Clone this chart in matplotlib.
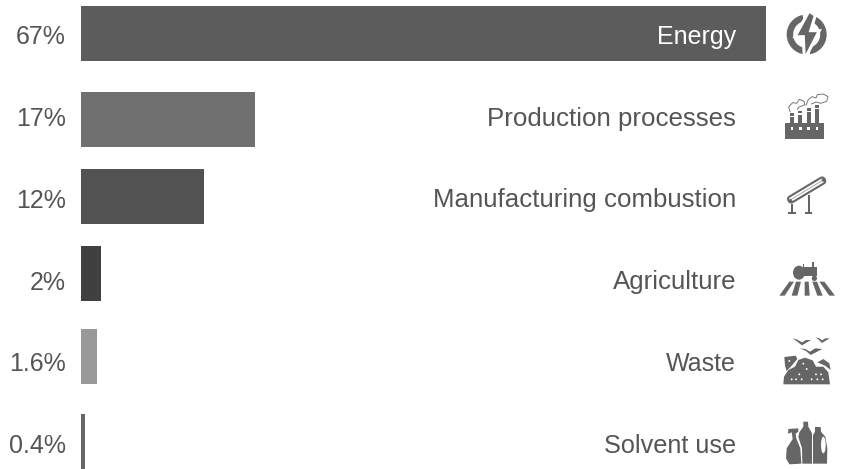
import matplotlib

matplotlib.use("Agg")

import matplotlib.pyplot as plt
from matplotlib.patches import Circle, Ellipse, FancyBboxPatch, Polygon, Rectangle, Wedge
from matplotlib.transforms import Affine2D

categories = ["Energy", "Production processes", "Manufacturing combustion", "Agriculture", "Waste", "Solvent use"]
shares = [67, 17, 12, 2, 1.6, 0.4]
share_labels = ["67%", "17%", "12%", "2%", "1.6%", "0.4%"]

# bars and labels sit on different rows, both given in pixels
BAR_CENTRES = [33.5, 119.5, 196.5, 273.5, 356.5, 442]
LABEL_CENTRES = [34.5, 116.5, 198, 280, 361.5, 443.5]
BAR_HEIGHT = 55
BAR_COLORS = ["#5c5c5c", "#707070", "#525252", "#404040", "#999999", "#666666"]
LABEL_SIZES = [18, 18.6, 18.6, 18.6, 18, 18.2]
TEXT = "#555555"
ICON = "#666666"

W, H = 843, 469
fig = plt.figure(figsize=(W / 100, H / 100), dpi=100)
fig.patch.set_facecolor("white")
plt.rcParams["font.family"] = ["Liberation Sans", "DejaVu Sans"]

ax = fig.add_axes([81 / W, 0, (766 - 81) / W, 1])
ax.barh(BAR_CENTRES, shares, height=BAR_HEIGHT, color=BAR_COLORS)
ax.set_xlim(0, 67)
ax.set_ylim(H, 0)
ax.axis("off")

# pixel-space layer for labels and icons
ov = fig.add_axes([0, 0, 1, 1])
ov.set_xlim(0, W)
ov.set_ylim(H, 0)
ov.axis("off")
ov.patch.set_alpha(0)

for i, cy in enumerate(LABEL_CENTRES):
    ov.text(66, cy, share_labels[i], ha="right", va="center_baseline", fontsize=18, color=TEXT)
    ov.text(736, cy, categories[i], ha="right", va="center_baseline", fontsize=LABEL_SIZES[i],
            color="white" if i == 0 else TEXT)


def px(points, oy=0):
    # icon outlines are sketched at 3x, origin at x=740
    return [(740 + x / 3, oy + y / 3) for x, y in points]


def poly(points, oy=0, color=ICON, **kw):
    ov.add_patch(Polygon(px(points, oy), closed=True, facecolor=color, edgecolor=kw.pop("edgecolor", "none"), **kw))


def outline(points, oy=0, lw=0.7):
    xs, ys = zip(*px(points, oy))
    ov.plot(xs, ys, color="#777777", lw=lw, solid_capstyle="round")


def disc(x, y, r, oy=0, color=ICON):
    ov.add_patch(Circle((740 + x / 3, oy + y / 3), r / 3, facecolor=color, edgecolor="none"))


# energy
c = (740 + 200 / 3, 34.5)
ov.add_patch(Wedge(c, 20, 98, 258, width=6.5, facecolor=ICON, edgecolor="none"))
ov.add_patch(Wedge(c, 20, -78, 80, width=6.5, facecolor=ICON, edgecolor="none"))
bolt = [(207, 33), (165, 110), (190, 110), (193, 180), (238, 92), (212, 92), (226, 46)]
poly(bolt, color=ICON, edgecolor="white", linewidth=2.2)

# factory
poly([(135, 370), (252, 370), (252, 418), (135, 418)])
for x in (156, 181, 206, 231):
    ov.add_patch(Rectangle((740 + x / 3 - 1.3, 127.5), 2.6, 2.6, facecolor="white", edgecolor="none"))
for x, top in ((156, 340), (181, 332), (206, 324), (232, 316)):
    poly([(x - 6, top), (x + 6, top), (x + 6, top + 8), (x - 6, top + 8)])
    poly([(x - 6, top + 12), (x + 6, top + 12), (x + 6, 370), (x - 6, 370)])
outline([(150, 335), (146, 320), (158, 308), (170, 310), (178, 298), (192, 304), (194, 314), (176, 322), (172, 328)])
outline([(198, 316), (204, 300), (216, 290), (228, 294), (232, 284), (250, 282), (264, 290), (260, 304), (242, 310), (228, 306), (214, 312)])

# conveyor
cx, cy = 740 + 200 / 3, 570 / 3
t = Affine2D().rotate_deg_around(cx, cy, -31) + ov.transData
ov.add_patch(FancyBboxPatch((cx - 21, cy - 3.2), 42, 6.4, boxstyle="round,pad=0,rounding_size=3.2",
                            facecolor="white", edgecolor=ICON, lw=1.5, transform=t))
ov.add_patch(Rectangle((cx - 18, cy - 0.4), 36, 0.8, facecolor="#999999", edgecolor="none", transform=t))
disc(152, 602, 5)
disc(250, 540, 5)
for x, top in ((156, 612), (206, 585)):
    poly([(x - 3, top), (x + 3, top), (x + 3, 636), (x - 3, 636)])
    poly([(x - 11, 636), (x + 11, 636), (x + 11, 641), (x - 11, 641)])

# agriculture
y0 = 235
ov.add_patch(Ellipse((740 + 177 / 3, y0 + 113 / 3), 36 / 3, 42 / 3, facecolor=ICON, edgecolor="none"))
poly([(188, 96), (232, 96), (232, 124), (188, 124)], y0)
poly([(189, 86), (193, 86), (193, 96), (189, 96)], y0)
poly([(217, 82), (222, 82), (222, 96), (217, 96)], y0)
disc(223, 130, 8, y0)
poly([(148, 140), (162, 140), (134, 182), (118, 182)], y0)
poly([(168, 140), (183, 140), (172, 182), (155, 182)], y0)
poly([(194, 140), (206, 140), (209, 182), (194, 182)], y0)
poly([(217, 140), (231, 140), (248, 182), (232, 182)], y0)
poly([(238, 140), (253, 140), (285, 182), (268, 182)], y0)

# waste
poly([(130, 448), (132, 425), (145, 405), (165, 395), (175, 375), (195, 368), (218, 376), (228, 395), (250, 395),
      (265, 412), (270, 448)], y0)
poly([(133, 366), (167, 362), (172, 372), (155, 392), (140, 408), (135, 392)], y0)
poly([(232, 382), (250, 372), (268, 385), (272, 405), (255, 392)], y0)
for x, y in ((155, 433), (168, 433), (185, 433), (215, 433), (232, 433), (248, 433), (178, 418), (228, 418), (243, 418),
             (200, 402), (148, 378), (190, 386)):
    disc(x, y, 2.8, y0, color="white")
for pts in ([(158, 310), (172, 314), (186, 322), (198, 315), (213, 315), (186, 331), (172, 320)],
            [(226, 307), (238, 310), (247, 316), (256, 310), (269, 310), (246, 324), (236, 314)],
            [(180, 340), (196, 342), (210, 350), (226, 340), (247, 342), (212, 360), (198, 348)]):
    poly(pts, y0)

# solvent bottles
poly([(145, 582), (175, 580), (175, 590), (167, 596), (169, 610), (181, 640), (184, 686), (148, 688), (138, 670),
      (140, 640), (158, 612), (155, 592), (144, 596)], y0)
poly([(190, 560), (204, 560), (205, 575), (216, 595), (216, 686), (187, 686), (186, 640), (175, 606), (178, 592), (190, 575)], y0)
poly([(225, 576), (242, 576), (243, 590), (256, 605), (262, 640), (261, 686), (219, 686), (219, 600), (225, 590)], y0)
ov.add_patch(Ellipse((740 + 250 / 3, y0 + 630 / 3), 14 / 3, 50 / 3, facecolor="white", edgecolor="none"))

fig.savefig("out.png", dpi=100, facecolor="white")
plt.close(fig)
